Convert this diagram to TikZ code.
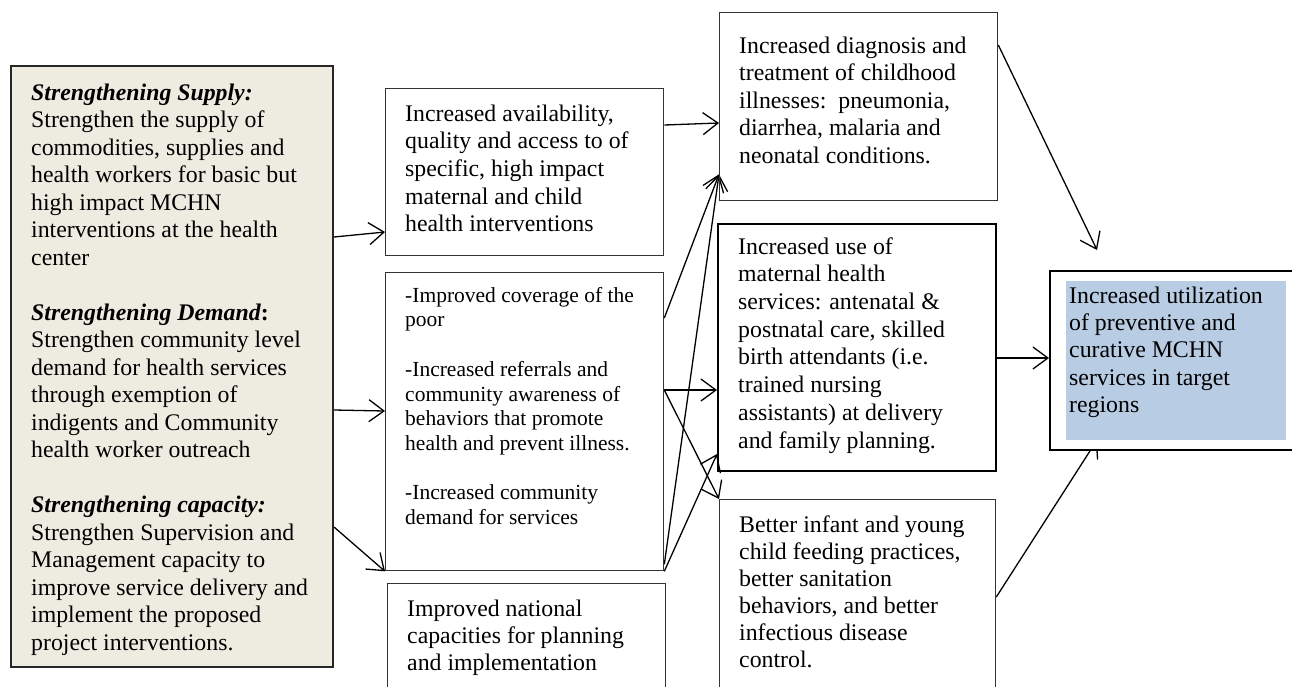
\documentclass[tikz,border=0pt]{standalone}
\usepackage{fontspec}
\setmainfont{Liberation Serif}
\usetikzlibrary{arrows.meta,calc,backgrounds}
\definecolor{tanbg}{HTML}{EEECE1}
\definecolor{hlblue}{HTML}{B8CCE4}
\tikzset{
  box/.style={draw=black!80, line width=1.3pt, inner sep=0pt, anchor=north west},
  tx/.style={anchor=north west, inner sep=0pt, align=left, font=\fontsize{23.8}{27.5}\selectfont},
  arr/.style={-{Straight Barb[length=15pt,width=22pt]}, line width=1.3pt},
}
\begin{document}
\begin{tikzpicture}[x=1pt,y=-1pt]
\useasboundingbox (0,0) rectangle (1292,686);
\clip (0,0) rectangle (1292,686);
% boxes
\node[box, fill=tanbg, line width=2pt, draw=black!85, minimum width=322pt, minimum height=601pt] (L) at (10,65) {};
\node[box, minimum width=278pt, minimum height=167pt] (A) at (385,88) {};
\node[box, minimum width=278pt, minimum height=298pt] (B) at (385,272) {};
\node[box, minimum width=278pt, minimum height=130pt] (C) at (387,583) {};
\node[box, minimum width=278pt, minimum height=188pt] (D) at (719,12) {};
\node[box, line width=2pt, draw=black, minimum width=278pt, minimum height=247pt] (E) at (717,223) {};
\node[box, minimum width=276pt, minimum height=220pt] (F) at (719,499) {};
\node[box, fill=white, draw=black, line width=1.5pt, minimum width=260pt, minimum height=179pt] (G) at (1049,270) {};
\node[anchor=north west, fill=hlblue, minimum width=220pt, minimum height=159pt, inner sep=0pt] (Gh) at (1066,281) {};
% texts
\node[tx] (Lt) at (31,80.75) {\strut\textbf{\textit{Strengthening Supply:}}\\
Strengthen the supply of\\
commodities, supplies and\\
health workers for basic but\\
high impact MCHN\\
interventions at the health\\
center\\[27.5pt]
\textbf{\textit{Strengthening Demand}:}\\
Strengthen community level\\
demand for health services\\
through exemption of\\
indigents and Community\\
health worker outreach\\[27.5pt]
\textbf{\textit{Strengthening capacity:}}\\
Strengthen Supervision and\\
Management capacity to\\
improve service delivery and\\
implement the proposed\\
project interventions.};
\node[tx, font=\fontsize{23.8}{27.7}\selectfont] (At) at (405,101.6) {\strut Increased availability,\\
quality and access to of\\
specific, high impact\\
maternal and child\\
health interventions};
\node[tx, font=\fontsize{21.5}{24.7}\selectfont] (Bt) at (405,284.7) {\strut -Improved coverage of the\\
poor\\[24.7pt]
-Increased referrals and\\
community awareness of\\
behaviors that promote\\
health and prevent illness.\\[24.7pt]
-Increased community\\
demand for services};
\node[tx, font=\fontsize{23.8}{27}\selectfont] (Ct) at (407,597.1) {\strut Improved national\\
capacities for planning\\
and implementation};
\node[tx] (Dt) at (739,33.75) {\strut Increased diagnosis and\\
treatment of childhood\\
illnesses:\ \ pneumonia,\\
diarrhea, malaria and\\
neonatal conditions.};
\node[tx, font=\fontsize{23.8}{27.7}\selectfont] (Et) at (738,234.6) {\strut Increased use of\\
maternal health\\
services: antenatal \&\\
postnatal care, skilled\\
birth attendants (i.e.\\
trained nursing\\
assistants) at delivery\\
and family planning.};
\node[tx, font=\fontsize{23.8}{27}\selectfont] (Ft) at (739,513.1) {\strut Better infant and young\\
child feeding practices,\\
better sanitation\\
behaviors, and better\\
infectious disease\\
control.};
\node[tx, font=\fontsize{23.8}{27.3}\selectfont] (Gt) at (1069,283.9) {\strut Increased utilization\\
of preventive and\\
curative MCHN\\
services in target\\
regions};
% connectors
\begin{scope}[on background layer]
\draw[arr] ($(L.north east)+(0,172)$) -- ($(A.north west)+(0,144)$);
\draw[arr] ($(L.north east)+(0,345)$) -- ($(B.north west)+(0,139)$);
\draw[arr] ($(L.north east)+(0,462)$) -- (B.south west);
\draw[arr] ($(A.north east)+(0,37)$) -- ($(D.north west)+(0,111)$);
\draw[arr] ($(B.north east)+(0,46)$) -- ($(D.south west)+(0,-27)$);
\draw[arr] ($(B.north east)+(0,118)$) -- ($(E.north west)+(0,167)$);
\draw[arr] ($(B.north east)+(0,118)$) -- (F.north west);
\draw[arr] (B.south east) -- ($(E.south west)+(0,-18)$);
\draw[arr] ($(B.south east)+(0,-7)$) -- ($(D.south west)+(0,-27)$);
\draw[arr] ($(D.north east)+(0,33)$) -- ($(G.north west)+(48,-20)$);
\draw[arr] ($(E.north east)+(0,135)$) -- ($(G.north west)+(0,88)$);
\draw[arr] ($(F.north east)+(0,98)$) -- ($(G.north west)+(48,170)$);
\end{scope}
\end{tikzpicture}
\end{document}
